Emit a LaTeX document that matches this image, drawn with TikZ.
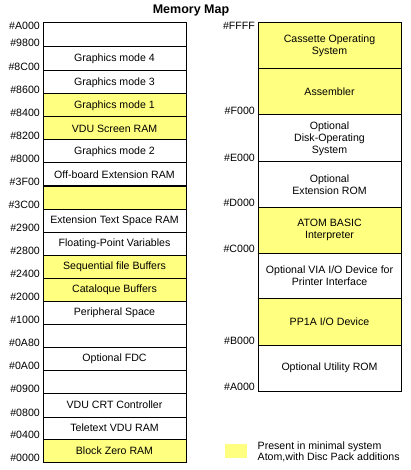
\documentclass[tikz,border=0pt]{standalone}
\usepackage{fontspec}
\setmainfont{Liberation Sans}
\definecolor{memyellow}{RGB}{255,255,128}
\begin{document}
\begin{tikzpicture}[x=1pt,y=-1pt,
  cell/.style={draw=black,line width=1pt,minimum width=143pt,inner sep=0pt,outer sep=0pt,
    align=center,font=\fontsize{10.6}{12}\selectfont},
  yel/.style={fill=memyellow},
  addr/.style={anchor=east,inner sep=0pt,font=\fontsize{10.6}{12}\selectfont}]
\useasboundingbox (0,0) rectangle (410,470);
\node[font=\bfseries\fontsize{12.5}{14}\selectfont] (title) at (191,11) {Memory Map};
% left column
\def\lx{114.5}
\node[cell,minimum height=24pt] (l1) at (\lx,35) {};
\node[cell,minimum height=24pt] (l2) at (\lx,59) {Graphics mode 4};
\node[cell,minimum height=23pt] (l3) at (\lx,82.5) {Graphics mode 3};
\node[cell,yel,minimum height=23pt] (l4) at (\lx,105.5) {Graphics mode 1};
\node[cell,yel,minimum height=23pt] (l5) at (\lx,128.5) {VDU Screen RAM};
\node[cell,minimum height=23pt] (l6) at (\lx,151.5) {Graphics mode 2};
\node[cell,minimum height=23pt] (l7) at (\lx,174.5) {Off-board Extension RAM};
\node[cell,yel,minimum height=23pt] (l8) at (\lx,197.5) {};
\node[cell,minimum height=23pt] (l9) at (\lx,220.5) {Extension Text Space RAM};
\node[cell,minimum height=23pt] (l10) at (\lx,243.5) {Floating-Point Variables};
\node[cell,yel,minimum height=23pt] (l11) at (\lx,266.5) {Sequential file Buffers};
\node[cell,yel,minimum height=23pt] (l12) at (\lx,289.5) {Cataloque Buffers};
\node[cell,minimum height=23pt] (l13) at (\lx,312.5) {Peripheral Space};
\node[cell,minimum height=23pt] (l14) at (\lx,335.5) {};
\node[cell,minimum height=23pt] (l15) at (\lx,358.5) {Optional FDC};
\node[cell,minimum height=23pt] (l16) at (\lx,381.5) {};
\node[cell,minimum height=24pt] (l17) at (\lx,405) {VDU CRT Controller};
\node[cell,minimum height=22pt] (l18) at (\lx,428) {Teletext VDU RAM};
\node[cell,yel,minimum height=23pt] (l19) at (\lx,450.5) {Block Zero RAM};
% left addresses
\node[addr] (aA000) at (40,26) {\#A000};
\node[addr] (a9800) at (40,42.5) {\#9800};
\node[addr] (a8C00) at (40,66.5) {\#8C00};
\node[addr] (a8600) at (40,89.5) {\#8600};
\node[addr] (a8400) at (40,112.5) {\#8400};
\node[addr] (a8200) at (40,135.5) {\#8200};
\node[addr] (a8000) at (40,158.5) {\#8000};
\node[addr] (a3F00) at (40,181.5) {\#3F00};
\node[addr] (a3C00) at (40,204.5) {\#3C00};
\node[addr] (a2900) at (40,227.5) {\#2900};
\node[addr] (a2800) at (40,250.5) {\#2800};
\node[addr] (a2400) at (40,273.5) {\#2400};
\node[addr] (a2000) at (40,296.5) {\#2000};
\node[addr] (a1000) at (40,319.5) {\#1000};
\node[addr] (a0A80) at (40,342.5) {\#0A80};
\node[addr] (a0A00) at (40,365.5) {\#0A00};
\node[addr] (a0900) at (40,388.5) {\#0900};
\node[addr] (a0800) at (40,412.5) {\#0800};
\node[addr] (a0400) at (40,434.5) {\#0400};
\node[addr] (a0000) at (40,457.5) {\#0000};
% right column
\def\rx{329.5}
\node[cell,yel,minimum height=46pt] (r1) at (\rx,46) {Cassette Operating\\System};
\node[cell,yel,minimum height=46pt] (r2) at (\rx,92) {Assembler};
\node[cell,minimum height=47pt] (r3) at (\rx,138.5) {Optional\\Disk-Operating\\System};
\node[cell,minimum height=45pt] (r4) at (\rx,184.5) {Optional\\Extension ROM};
\node[cell,yel,minimum height=46pt] (r5) at (\rx,230) {ATOM BASIC\\Interpreter};
\node[cell,minimum height=45pt] (r6) at (\rx,275.5) {Optional VIA I/O Device for\\Printer Interface};
\node[cell,yel,minimum height=47pt] (r7) at (\rx,321.5) {PP1A I/O Device};
\node[cell,minimum height=46pt] (r8) at (\rx,368) {Optional Utility ROM};
% right addresses
\node[addr] (bFFFF) at (255,26) {\#FFFF};
\node[addr] (bF000) at (255,110.5) {\#F000};
\node[addr] (bE000) at (255,157.5) {\#E000};
\node[addr] (bD000) at (255,202.5) {\#D000};
\node[addr] (bC000) at (255,248.5) {\#C000};
\node[addr] (bB000) at (255,340.5) {\#B000};
\node[addr] (bA000) at (255,386.5) {\#A000};
% legend
\fill[memyellow] (225,444) rectangle (247,458);
\node[anchor=west,inner sep=0pt,align=left,font=\fontsize{10.6}{11}\selectfont] (legend) at (257.5,452)
  {Present in minimal system\\Atom,with Disc Pack additions};
\end{tikzpicture}
\end{document}
